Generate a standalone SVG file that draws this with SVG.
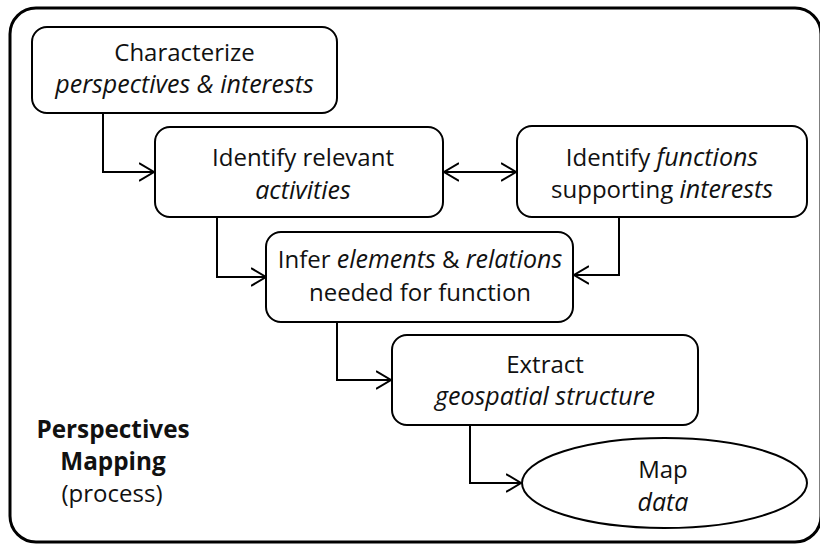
<svg xmlns="http://www.w3.org/2000/svg" width="820" height="545" viewBox="0 0 820 545">
<style>
.frame{fill:none;stroke:#000;stroke-width:3}
.box{fill:#fff;stroke:#000;stroke-width:2}
.conn{fill:none;stroke:#000;stroke-width:2}
text{font-family:"Open Sans","Liberation Sans",sans-serif;font-size:24px;fill:#111;text-anchor:middle}
.i{font-style:italic;font-size:25px}
.b{font-weight:bold;font-size:24.3px}
</style>
<defs>
<marker id="ah" markerUnits="userSpaceOnUse" markerWidth="20" markerHeight="22" refX="15" refY="10" orient="auto-start-reverse" viewBox="0 0 20 22">
<path d="M0,1 L15,10 L0,19" fill="none" stroke="#000" stroke-width="2"/>
</marker>
</defs>
<rect class="frame" x="10" y="8" width="811" height="534" rx="26"/>
<g id="connectors">
<path class="conn" d="M103,113 V172 H154" marker-end="url(#ah)"/>
<path class="conn" d="M217,218 V277 H266" marker-end="url(#ah)"/>
<path class="conn" d="M444,172 H516" marker-start="url(#ah)" marker-end="url(#ah)"/>
<path class="conn" d="M619,217 V275 H574" marker-end="url(#ah)"/>
<path class="conn" d="M337,322 V380 H391" marker-end="url(#ah)"/>
<path class="conn" d="M470,425 V483 H521" marker-end="url(#ah)"/>
</g>
<g id="characterize">
<rect class="box" x="32" y="27" width="305" height="86" rx="15"/>
<text x="184.5" y="61">Characterize</text>
<text x="184.5" y="93" class="i">perspectives &amp; interests</text>
</g>
<g id="identify-activities">
<rect class="box" x="155" y="127" width="288" height="90" rx="15"/>
<text x="303" y="166">Identify relevant</text>
<text x="303" y="199" class="i">activities</text>
</g>
<g id="identify-functions">
<rect class="box" x="517" y="126" width="290" height="91" rx="15"/>
<text x="662" y="166">Identify <tspan class="i">functions</tspan></text>
<text x="662" y="198">supporting <tspan class="i">interests</tspan></text>
</g>
<g id="infer">
<rect class="box" x="266" y="232" width="307" height="90" rx="15"/>
<text x="420" y="268">Infer <tspan class="i">elements</tspan> &amp; <tspan class="i">relations</tspan></text>
<text x="420" y="301">needed for function</text>
</g>
<g id="extract">
<rect class="box" x="392" y="335" width="306" height="90" rx="15"/>
<text x="545" y="373">Extract</text>
<text x="545" y="405" class="i">geospatial structure</text>
</g>
<g id="map">
<ellipse class="box" cx="664.5" cy="483" rx="142.5" ry="45"/>
<text x="663" y="478">Map</text>
<text x="663" y="511" class="i">data</text>
</g>
<g id="label">
<text x="113" y="438" class="b">Perspectives</text>
<text x="113" y="470" class="b">Mapping</text>
<text x="112" y="502">(process)</text>
</g>
</svg>
